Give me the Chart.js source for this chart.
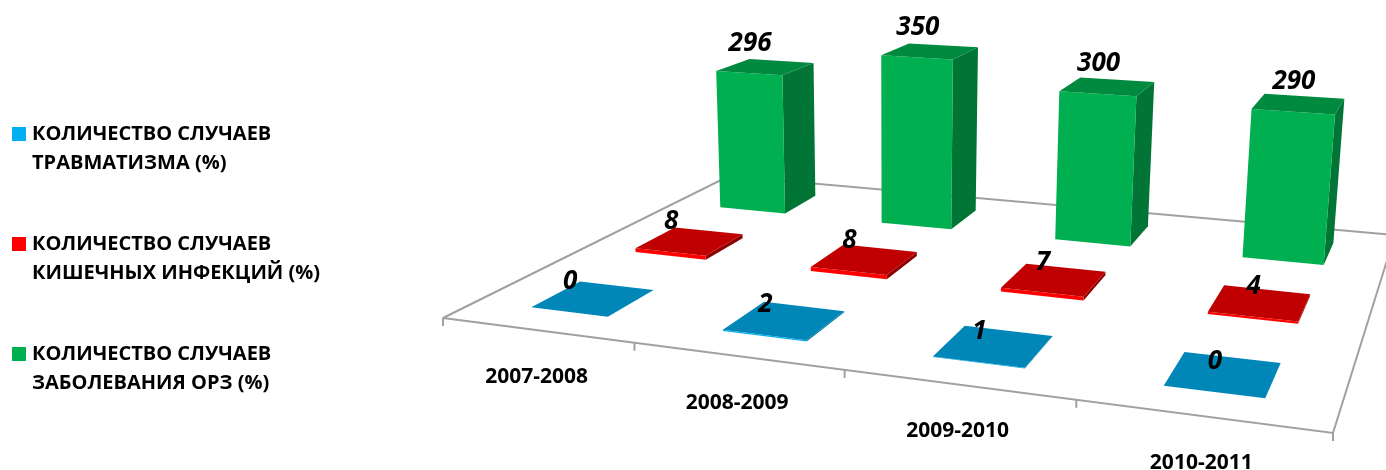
<!DOCTYPE html>
<html>
<head>
<meta charset="utf-8">
<title>Chart</title>
<style>
  html, body { margin: 0; padding: 0; background: #fff; }
  canvas { display: block; }
</style>
<script src="https://cdn.jsdelivr.net/npm/chart.js@4"></script>
</head>
<body>
<canvas id="chart" width="1386" height="470"></canvas>
<script>
// ----------- Data -----------
const categories = ['2007-2008', '2008-2009', '2009-2010', '2010-2011'];
const injuryCases = [0, 2, 1, 0];
const intestinalCases = [8, 8, 7, 4];
const respiratoryCases = [296, 350, 300, 290];
const injuryName = ['КОЛИЧЕСТВО СЛУЧАЕВ', 'ТРАВМАТИЗМА (%)'];
const intestinalName = ['КОЛИЧЕСТВО СЛУЧАЕВ', 'КИШЕЧНЫХ ИНФЕКЦИЙ (%)'];
const respiratoryName = ['КОЛИЧЕСТВО СЛУЧАЕВ', 'ЗАБОЛЕВАНИЯ ОРЗ (%)'];

// ----------- Perspective of the floor (back-left, back-right, front-right, front-left) -----------
const floorCorners = [[729, 176], [1395, 235], [1333, 433], [443, 318]];
const verticalVanish = [894, 6000];
const heightFactor = -0.000072;
const laneDepth = 0.44;
const lineColor = '#A0A0A0';

const makeProjector = (q) => {
  const [[x0, y0], [x1, y1], [x2, y2], [x3, y3]] = q;
  const dx1 = x1 - x2, dx2 = x3 - x2, sx = x0 - x1 + x2 - x3;
  const dy1 = y1 - y2, dy2 = y3 - y2, sy = y0 - y1 + y2 - y3;
  const den = dx1 * dy2 - dx2 * dy1;
  const g = (sx * dy2 - dx2 * sy) / den;
  const h = (dx1 * sy - sx * dy1) / den;
  const a = x1 - x0 + g * x1, b = x3 - x0 + h * x3;
  const d = y1 - y0 + g * y1, e = y3 - y0 + h * y3;
  return (u, v, z = 0) => {
    const k = heightFactor * z;
    const w = g * u + h * v + 1 + k;
    return [(a * u + b * v + x0 + k * verticalVanish[0]) / w, (d * u + e * v + y0 + k * verticalVanish[1]) / w];
  };
};
const project = makeProjector(floorCorners);

const fillPoly = (ctx, color, pts) => {
  ctx.fillStyle = color;
  ctx.beginPath();
  pts.forEach((p, i) => i ? ctx.lineTo(p[0], p[1]) : ctx.moveTo(p[0], p[1]));
  ctx.closePath();
  ctx.fill();
};

// footprint of a bar element in floor units
const barBox = (chart, el, dsIndex) => {
  const area = chart.chartArea;
  const lanes = chart.data.datasets.length;
  const uc = (el.x - area.left) / area.width;
  const hw = el.width / 2 / area.width;
  const vc = (lanes - dsIndex - 0.5) / lanes;
  const hd = laneDepth / lanes / 2;
  return { u0: uc - hw, u1: uc + hw, v0: vc - hd, v1: vc + hd, uc };
};

// ----------- Bar controller drawing the bars in perspective -----------
class Bar3dController extends Chart.BarController {
  draw() {
    const chart = this.chart, ctx = chart.ctx;
    const ds = this.getDataset();
    const yScale = this._cachedMeta.vScale;
    this._cachedMeta.data.forEach(el => {
      const b = barBox(chart, el, this.index);
      const z = yScale.getValueForPixel(el.y);
      const p = (u, v, h) => project(u, v, h);
      fillPoly(ctx, ds.sideColor, [p(b.u1, b.v1, 0), p(b.u1, b.v0, 0), p(b.u1, b.v0, z), p(b.u1, b.v1, z)]);
      fillPoly(ctx, ds.frontColor, [p(b.u0, b.v1, 0), p(b.u1, b.v1, 0), p(b.u1, b.v1, z), p(b.u0, b.v1, z)]);
      fillPoly(ctx, ds.topColor, [p(b.u0, b.v0, z), p(b.u1, b.v0, z), p(b.u1, b.v1, z), p(b.u0, b.v1, z)]);
    });
  }
}
Bar3dController.id = 'bar3d';
Bar3dController.defaults = Chart.BarController.defaults;
Bar3dController.overrides = Chart.BarController.overrides;
Chart.register(Bar3dController);

// ----------- Floor lines and category labels -----------
const floorPlugin = {
  id: 'floor',
  // legend spacing comes from labels.padding, which also indents it, so pull it back
  afterLayout(chart) {
    chart.legend.left = -36;
  },
  beforeDatasetsDraw(chart) {
    const ctx = chart.ctx, xs = chart.scales.x, area = chart.chartArea;
    const band = area.width / categories.length;
    ctx.save();
    ctx.strokeStyle = lineColor;
    ctx.lineWidth = 2;
    ctx.beginPath();
    [[0, 1], [0, 0], [1, 0], [1, 1], [0, 1]].forEach((c, i) => {
      const p = project(c[0], c[1]);
      i ? ctx.lineTo(p[0], p[1]) : ctx.moveTo(p[0], p[1]);
    });
    ctx.stroke();
    categories.forEach((name, i) => {
      const left = (xs.getPixelForValue(i) - band / 2 - area.left) / area.width;
      const right = (xs.getPixelForValue(i) + band / 2 - area.left) / area.width;
      [left].concat(i === categories.length - 1 ? [right] : []).forEach(u => {
        const p = project(u, 1);
        ctx.beginPath();
        ctx.moveTo(p[0], p[1]);
        ctx.lineTo(p[0], p[1] + 8);
        ctx.stroke();
      });
      const mid = project((xs.getPixelForValue(i) - area.left) / area.width, 1);
      ctx.fillStyle = '#000';
      ctx.font = 'bold 21px "Open Sans"';
      ctx.textAlign = 'center';
      ctx.textBaseline = 'middle';
      ctx.fillText(name, mid[0], mid[1] + 47);
    });
    ctx.restore();
  },
  afterDatasetsDraw(chart) {
    const ctx = chart.ctx;
    ctx.save();
    ctx.fillStyle = '#000';
    ctx.font = 'italic bold 26px "Open Sans"';
    ctx.textAlign = 'center';
    ctx.textBaseline = 'middle';
    chart.data.datasets.forEach((ds, di) => {
      const meta = chart.getDatasetMeta(di);
      meta.data.forEach((el, i) => {
        const b = barBox(chart, el, di);
        const p = project(b.uc, b.v1, ds.data[i]);
        ctx.fillText(String(ds.data[i]), p[0] + 1, p[1] - 30);
      });
    });
    ctx.restore();
  }
};

const legendNames = [injuryName, intestinalName, respiratoryName];

// square legend marker; the narrow pointStyleWidth keeps the text close to it
const makeSwatch = (color) => {
  const c = document.createElement('canvas');
  c.width = 14;
  c.height = 14;
  const g = c.getContext('2d');
  g.fillStyle = color;
  g.fillRect(0, 0, 14, 14);
  return c;
};

new Chart(document.getElementById('chart'), {
  type: 'bar3d',
  data: {
    labels: categories,
    datasets: [
      { label: 'ТРАВМАТИЗМА', data: injuryCases, backgroundColor: '#00B0F0', frontColor: '#00B0F0', topColor: '#0087B8', sideColor: '#006C92' },
      { label: 'КИШЕЧНЫХ ИНФЕКЦИЙ', data: intestinalCases, backgroundColor: '#FF0000', frontColor: '#FF0000', topColor: '#C00000', sideColor: '#8E0000' },
      { label: 'ОРЗ', data: respiratoryCases, backgroundColor: '#00B050', frontColor: '#00B050', topColor: '#008A3F', sideColor: '#007535' }
    ]
  },
  options: {
    responsive: false,
    animation: false,
    layout: { padding: { top: 56, left: 4 } },
    datasets: { bar3d: { grouped: false, barPercentage: 0.41, categoryPercentage: 1, clip: false } },
    scales: {
      x: { type: 'category', display: false, offset: true },
      y: { type: 'linear', display: false, min: 0, max: 400 }
    },
    plugins: {
      tooltip: { enabled: false },
      legend: {
        position: 'left',
        labels: {
          usePointStyle: true,
          pointStyleWidth: 6,
          boxHeight: 14,
          padding: 52,
          color: '#000',
          font: { family: '"Open Sans"', size: 20, weight: 'bold', lineHeight: 1.45 },
          generateLabels: chart => chart.data.datasets.map((ds, i) => ({
            text: legendNames[i],
            pointStyle: makeSwatch(ds.backgroundColor),
            fillStyle: ds.backgroundColor,
            strokeStyle: ds.backgroundColor,
            lineWidth: 0,
            datasetIndex: i
          }))
        }
      }
    }
  },
  plugins: [floorPlugin]
});
</script>
</body>
</html>
